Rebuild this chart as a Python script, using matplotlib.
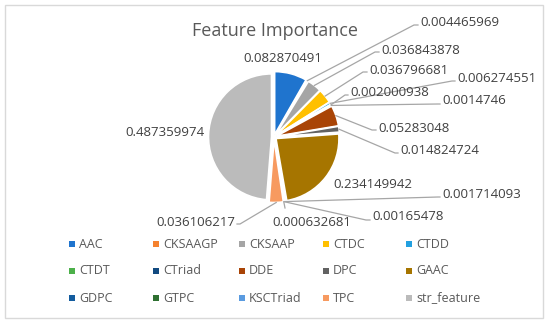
import math
import matplotlib
matplotlib.use("Agg")
import matplotlib.pyplot as plt
from matplotlib.patches import Rectangle

# data
features = ["AAC", "CKSAAGP", "CKSAAP", "CTDC", "CTDD",
            "CTDT", "CTriad", "DDE", "DPC", "GAAC",
            "GDPC", "GTPC", "KSCTriad", "TPC", "str_feature"]
importance = [0.082870491, 0.004465969, 0.036843878, 0.036796681, 0.006274551,
              0.002000938, 0.0014746, 0.05283048, 0.014824724, 0.234149942,
              0.001714093, 0.00165478, 0.000632681, 0.036106217, 0.487359974]
value_labels = ["0.082870491", "0.004465969", "0.036843878", "0.036796681", "0.006274551",
                "0.002000938", "0.0014746", "0.05283048", "0.014824724", "0.234149942",
                "0.001714093", "0.00165478", "0.000632681", "0.036106217", "0.487359974"]

colors = ["#1F74CE", "#F5822F", "#A5A5A5", "#FFC000", "#22A0E0",
          "#4CB04A", "#124A80", "#A94406", "#626262", "#A67500",
          "#135C9E", "#2E7031", "#5A9BE0", "#F79A60", "#BBBBBB"]

# label layout in pixels from top-left: (x, y, ha, leader end or None)
label_pos = [
    (243, 59, "left", None),
    (420, 23, "left", (414, 25)),
    (381, 50, "left", (375, 52)),
    (369, 70, "left", (363, 72)),
    (457, 79, "left", (452, 81)),
    (350, 93, "left", (345, 95)),
    (442, 101, "left", (438, 104)),
    (378, 128, "left", (372, 130)),
    (400, 151, "left", (395, 153)),
    (333, 185, "left", None),
    (442, 194, "left", (438, 197)),
    (372, 217, "left", (366, 220)),
    (272, 222, "left", (285, 208)),
    (235, 222, "right", (240, 224)),
    (125, 133, "left", None),
]

W, H = 550, 325
cx, cy, R = 274, 137, 63
expl = 2.5


def py(y):
    return H - y


fig = plt.figure(figsize=(5.5, 3.25), dpi=100)
ax = fig.add_axes([0, 0, 1, 1])
ax.set_xlim(0, W)
ax.set_ylim(0, H)
ax.axis("off")

ax.add_patch(Rectangle((5, py(318)), 538, 313, fill=False,
                       edgecolor="#D9D9D9", linewidth=1))

wedges, _ = ax.pie(
    importance,
    colors=colors,
    startangle=90,
    counterclock=False,
    center=(cx, py(cy)),
    radius=R,
    explode=[expl] * len(importance),
    wedgeprops=dict(edgecolor="white", linewidth=1.2),
    frame=True,
)
ax.set_xlim(0, W)
ax.set_ylim(0, H)
ax.set_aspect("equal")
ax.axis("off")

text_color = "#404040"
line_color = "#A6A6A6"

for w, lab, (lx, ly, ha, end) in zip(wedges, value_labels, label_pos):
    ang = math.radians((w.theta1 + w.theta2) / 2)
    wx, wy = w.center
    if end is not None:
        sx = wx + R * math.cos(ang)
        sy = wy + R * math.sin(ang)
        ex, ey = end
        if ha == "left" and ex < lx:
            xs = [sx, ex, lx - 2]
            ys = [sy, py(ey), py(ey)]
        elif ha == "right":
            xs = [sx, ex, lx + 2]
            ys = [sy, py(ey), py(ey)]
        else:
            xs = [sx, ex]
            ys = [sy, py(ey)]
        ax.plot(xs, ys, color=line_color, linewidth=0.9)
    ax.text(lx, py(ly), lab, ha=ha, va="center", fontsize=9.5,
            family="Open Sans", color=text_color)

ax.text(275, py(31), "Feature Importance", ha="center", va="center",
        fontsize=13, family="Open Sans", color="#595959")

# legend
col_x = [72, 156, 242, 326, 409]
row_y = [244, 271, 298]
for i, (name, c) in enumerate(zip(features, colors)):
    mx = col_x[i % 5]
    my = row_y[i // 5]
    ax.scatter([mx], [py(my)], marker="s", s=14, color=c, linewidths=0)
    ax.text(mx + 7, py(my), name, ha="left", va="center", fontsize=9,
            family="Open Sans", color="#595959")

plt.savefig("out.png", dpi=100)
plt.close()
